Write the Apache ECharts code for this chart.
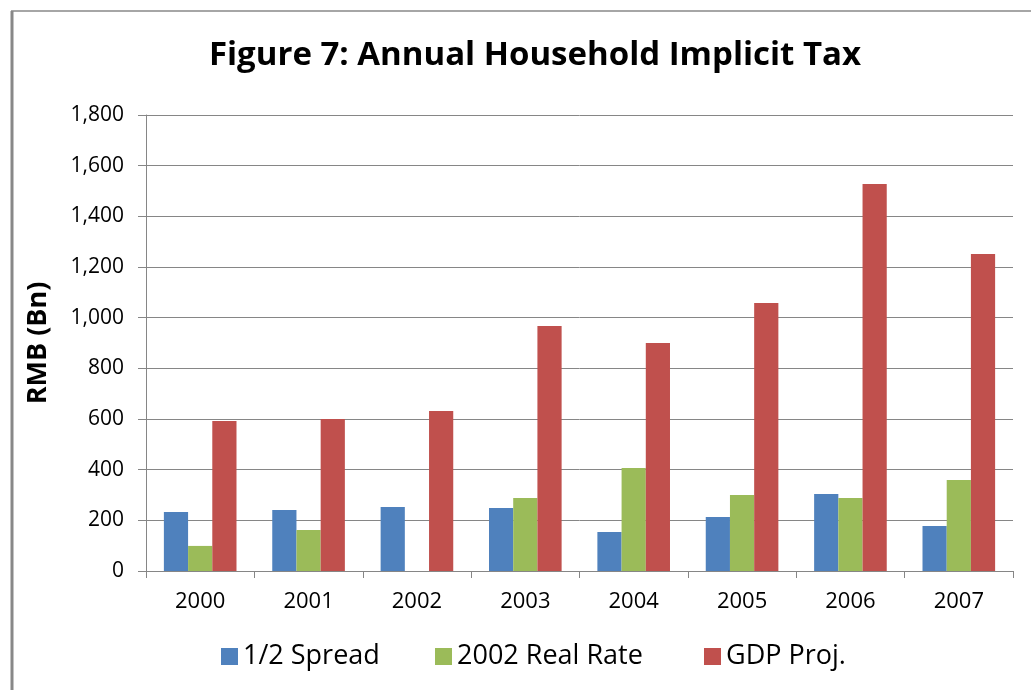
<!DOCTYPE html>
<html>
<head>
<meta charset="utf-8">
<script src="https://cdn.jsdelivr.net/npm/echarts@6/dist/echarts.min.js"></script>
<style>html,body{margin:0;padding:0;background:#fff}#c{width:1031px;height:690px}</style>
</head>
<body>
<div id="c"></div>
<script>
const categories = ['2000','2001','2002','2003','2004','2005','2006','2007'];
const seriesNames = ['1/2 Spread', '2002 Real Rate', 'GDP Proj.'];
const halfSpread = [233, 241, 253, 249, 154, 213, 304, 178];
const realRate2002 = [99, 162, 0, 288, 407, 300, 288, 359];
const gdpProj = [592, 600, 632, 967, 900, 1058, 1528, 1251];
const yTicks = {min: 0, max: 1800, interval: 200};

const FONT = '"Open Sans", "DejaVu Sans", sans-serif';
const chart = echarts.init(document.getElementById('c'), null, {renderer: 'canvas'});
const barStyle = (c) => ({type: 'bar', barGap: '0%', barCategoryGap: '33%', itemStyle: {color: c}});
const legendLefts = [216, 430, 699];
const legendBase = {
  top: 638, icon: 'rect', itemWidth: 17, itemHeight: 17, itemGap: 0,
  textStyle: {fontFamily: FONT, fontSize: 27, color: '#000'}
};
chart.setOption({
  backgroundColor: '#fff',
  animation: false,
  textStyle: {fontFamily: FONT},
  title: {
    text: 'Figure 7: Annual Household Implicit Tax',
    left: 530, top: 34, textAlign: 'center',
    textStyle: {fontFamily: FONT, fontWeight: 'bold', fontSize: 33, color: '#000'}
  },
  graphic: [
    {type: 'line', shape: {x1: 11, y1: 11, x2: 1031, y2: 11}, style: {stroke: '#888', lineWidth: 1.5}},
    {type: 'line', shape: {x1: 12, y1: 11, x2: 12, y2: 690}, style: {stroke: '#888', lineWidth: 3}}
  ],
  legend: seriesNames.map((n, i) => Object.assign({left: legendLefts[i], data: [n]}, legendBase)),
  grid: {left: 146, right: 18, top: 115, bottom: 119, containLabel: false},
  xAxis: {
    type: 'category', data: categories,
    axisLine: {lineStyle: {color: '#868686', width: 1}},
    axisTick: {show: true, length: 7, inside: false, lineStyle: {color: '#868686'}},
    axisLabel: {fontFamily: FONT, fontSize: 22, color: '#000', margin: 20}
  },
  yAxis: {
    type: 'value', min: yTicks.min, max: yTicks.max, interval: yTicks.interval,
    name: 'RMB (Bn)', nameLocation: 'middle', nameGap: 94, nameRotate: 90,
    nameTextStyle: {fontFamily: FONT, fontWeight: 'bold', fontSize: 27, color: '#000'},
    axisLine: {show: true, lineStyle: {color: '#868686', width: 1}},
    axisTick: {show: true, length: 8, lineStyle: {color: '#868686'}},
    splitLine: {show: true, lineStyle: {color: '#868686', width: 1}},
    axisLabel: {fontFamily: FONT, fontSize: 21, color: '#000', margin: 22,
      formatter: v => v.toLocaleString('en-US')}
  },
  series: [
    Object.assign({name: seriesNames[0], data: halfSpread}, barStyle('#4F81BD')),
    Object.assign({name: seriesNames[1], data: realRate2002}, barStyle('#9BBB59')),
    Object.assign({name: seriesNames[2], data: gdpProj}, barStyle('#C0504D'))
  ]
});
</script>
</body>
</html>
